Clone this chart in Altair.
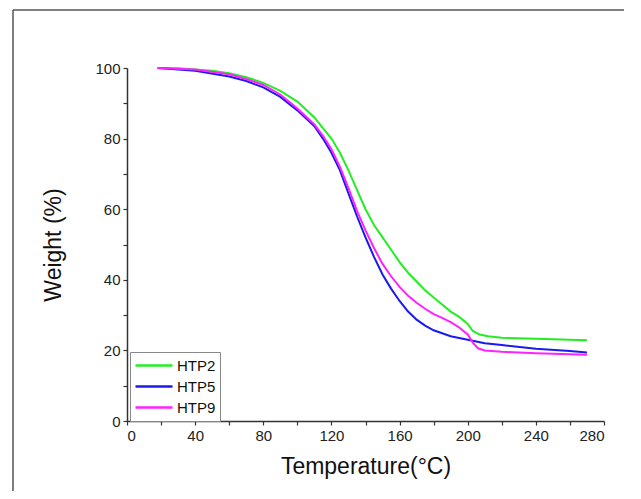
import altair as alt
import pandas as pd

series_names = ["HTP2", "HTP5", "HTP9"]
series_colors = ["#22ee22", "#1a1aee", "#ff22ff"]

htp2_t = [18, 30, 40, 50, 60, 70, 80, 90, 100, 110, 115, 120, 125, 130, 135, 140, 145, 150, 155, 160, 165, 170, 175, 180, 185, 190, 195, 200, 203, 207, 212, 220, 240, 260, 270]
htp2_w = [100, 99.9, 99.6, 99.2, 98.5, 97.4, 95.8, 93.5, 90.5, 86, 83, 80, 76, 71, 65.5, 60, 55.5, 52, 48.5, 45, 42, 39.5, 37, 35, 33, 31, 29.5, 27.5, 25.5, 24.5, 24, 23.6, 23.3, 23.0, 22.9]

htp5_t = [18, 40, 60, 70, 80, 90, 100, 110, 115, 120, 125, 130, 135, 140, 145, 150, 155, 160, 165, 170, 175, 180, 190, 200, 210, 220, 240, 260, 270]
htp5_w = [100, 99.2, 97.6, 96.3, 94.5, 91.8, 88, 83.5, 80, 76, 71, 64.5, 58, 52, 46.5, 41.5, 37.5, 34, 31, 28.7, 27, 25.7, 24, 23, 22, 21.5, 20.5, 19.8, 19.4]

htp9_t = [18, 40, 60, 70, 80, 90, 100, 110, 115, 120, 125, 130, 135, 140, 145, 150, 155, 160, 165, 170, 175, 180, 185, 190, 195, 200, 203, 206, 210, 220, 240, 260, 270]
htp9_w = [100, 99.6, 98.2, 96.9, 95.2, 92.5, 88.5, 84, 80.8, 77, 72, 66, 59.5, 54, 49, 44.5, 41, 38, 35.5, 33.5, 31.8, 30.3, 29.2, 28, 26.5, 24.5, 22.2, 20.6, 20, 19.6, 19.2, 18.9, 18.8]

x_ticks = list(range(0, 281, 20))
y_ticks = list(range(0, 101, 10))

rows = []
for name, ts, ws in [("HTP2", htp2_t, htp2_w), ("HTP5", htp5_t, htp5_w), ("HTP9", htp9_t, htp9_w)]:
    for i, (t, w) in enumerate(zip(ts, ws)):
        rows.append({"series": name, "T": t, "W": w, "order": i})
df = pd.DataFrame(rows)

FONT = "Liberation Sans"

lines = alt.Chart(df).mark_line(strokeWidth=2).encode(
    x=alt.X("T:Q", scale=alt.Scale(domain=[0, 280], nice=False, zero=False),
            axis=alt.Axis(values=x_ticks, title="Temperature(°C)",
                          labelExpr="datum.value % 40 == 0 ? datum.label : ''",
                          grid=False, tickSize=4, domainColor="#333", tickColor="#333",
                          domainWidth=1.5, tickWidth=1.2, labelFontSize=15, labelColor="#222",
                          labelFont=FONT, titleFont=FONT, titleFontSize=23,
                          titleFontWeight="normal", titleColor="#111", titlePadding=12,
                          labelPadding=3)),
    y=alt.Y("W:Q", scale=alt.Scale(domain=[0, 100], nice=False),
            axis=alt.Axis(values=y_ticks, title="Weight (%)",
                          labelExpr="datum.value % 20 == 0 ? datum.label : ''",
                          grid=False, tickSize=4, domainColor="#333", tickColor="#333",
                          domainWidth=1.5, tickWidth=1.2, labelFontSize=15, labelColor="#222",
                          labelFont=FONT, titleFont=FONT, titleFontSize=23,
                          titleFontWeight="normal", titleColor="#111", titlePadding=29,
                          labelPadding=3)),
    color=alt.Color("series:N", scale=alt.Scale(domain=series_names, range=series_colors),
                    legend=alt.Legend(title=None, orient="none", legendX=3, legendY=284,
                                      symbolType="stroke", symbolSize=1369, symbolStrokeWidth=2.5,
                                      clipHeight=19, labelFont=FONT, labelFontSize=15,
                                      labelColor="#111", strokeColor="#888", fillColor="white",
                                      padding=4, rowPadding=2, labelOffset=3, symbolOffset=0)),
    order="order:Q",
)

frame_left = alt.Chart(pd.DataFrame({"k": [0]})).mark_rule(color="#555", strokeWidth=1.5).encode(
    x=alt.value(-114), y=alt.value(-58), y2=alt.value(440))
frame_top = alt.Chart(pd.DataFrame({"k": [0]})).mark_rule(color="#555", strokeWidth=1.5).encode(
    y=alt.value(-58), x=alt.value(-114), x2=alt.value(520))

chart = alt.layer(frame_left, frame_top, lines).properties(
    width=477, height=353,
    autosize=alt.AutoSizeParams(type="none"),
    padding={"left": 119, "top": 60, "right": 20, "bottom": 70},
    background="white",
).configure_view(stroke=None)

chart.save("out.html", embed_options={"renderer": "svg", "actions": False})
